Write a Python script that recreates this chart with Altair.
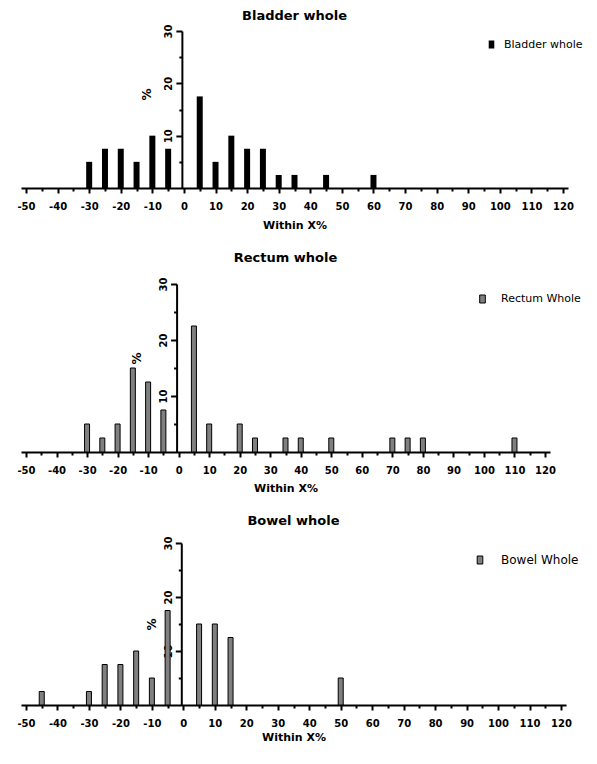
import altair as alt
import pandas as pd

# ---- data ----
panel_titles = ["Bladder whole", "Rectum whole", "Bowel whole"]
legend_names = ["Bladder whole", "Rectum Whole", "Bowel Whole"]

bladder_x = [-30, -25, -20, -15, -10, -5, 5, 10, 15, 20, 25, 30, 35, 45, 60]
bladder_pct = [5, 7.5, 7.5, 5, 10, 7.5, 17.5, 5, 10, 7.5, 7.5, 2.5, 2.5, 2.5, 2.5]

rectum_x = [-30, -25, -20, -15, -10, -5, 5, 10, 20, 25, 35, 40, 50, 70, 75, 80, 110]
rectum_pct = [5, 2.5, 5, 15, 12.5, 7.5, 22.5, 5, 5, 2.5, 2.5, 2.5, 2.5, 2.5, 2.5, 2.5, 2.5]

bowel_x = [-45, -30, -25, -20, -15, -10, -5, 5, 10, 15, 50]
bowel_pct = [2.5, 2.5, 7.5, 7.5, 10, 5, 17.5, 15, 15, 12.5, 5]

x_ticks = list(range(-50, 121, 5))
y_ticks = [5, 10, 15, 20, 25, 30]
x_domain = [-50, 120]
y_domain = [0, 30]

FONT = "DejaVu Sans"
SQUARE = "M-0.7,-1H0.7V1H-0.7Z"


def panel(title, legend_name, xs, ys, fill, stroke, width, height,
          leg_x, leg_y, leg_font, leg_offset, ytitle_x, ytitle_y,
          title_offset, xtitle_pad):
    df = pd.DataFrame({"x": xs, "pct": ys, "series": [legend_name] * len(xs)})
    y_offset = -(0 - x_domain[0]) / (x_domain[1] - x_domain[0]) * width
    bar_kwargs = dict(size=6) if stroke is None else dict(size=5, stroke=stroke, strokeWidth=1)
    return (
        alt.Chart(df)
        .mark_bar(**bar_kwargs)
        .encode(
            x=alt.X(
                "x:Q",
                scale=alt.Scale(domain=x_domain, nice=False, zero=False),
                axis=alt.Axis(
                    values=x_ticks,
                    title="Within X%",
                    labelExpr="datum.value % 10 === 0 ? '' + datum.value : ''",
                    tickSize={"condition": {"test": "datum.value % 10 === 0", "value": 5}, "value": 3},
                    labelPadding=8,
                    titlePadding=xtitle_pad,
                ),
            ),
            y=alt.Y(
                "pct:Q",
                scale=alt.Scale(domain=y_domain, nice=False),
                axis=alt.Axis(
                    values=y_ticks,
                    title="%",
                    offset=y_offset,
                    labelAngle=270,
                    labelAlign="center",
                    labelBaseline="bottom",
                    labelExpr="datum.value % 10 === 0 ? '' + datum.value : ''",
                    tickSize={"condition": {"test": "datum.value % 10 === 0", "value": 6}, "value": 3},
                    labelPadding=2,
                    titleAngle=270,
                    titleX=ytitle_x,
                    titleY=ytitle_y,
                    titleAlign="center",
                    titleBaseline="middle",
                    titleFontSize=12,
                ),
            ),
            color=alt.Color(
                "series:N",
                scale=alt.Scale(domain=[legend_name], range=[fill]),
                legend=alt.Legend(
                    title=None,
                    orient="none",
                    legendX=leg_x,
                    legendY=leg_y,
                    symbolType=SQUARE,
                    symbolSize=64,
                    symbolStrokeColor="black",
                    symbolStrokeWidth=1 if stroke else 0,
                    labelFont=FONT,
                    labelFontSize=leg_font,
                    labelOffset=leg_offset,
                    padding=0,
                ),
            ),
        )
        .properties(
            width=width,
            height=height,
            title=alt.TitleParams(title, frame="group", anchor="middle",
                                  font=FONT, fontSize=13, fontWeight="bold",
                                  offset=title_offset),
        )
    )


p1 = panel(panel_titles[0], legend_names[0], bladder_x, bladder_pct, "black", None,
           547, 157, 465, 8, 11, 7, -35, 63, 1, 8)
p2 = panel(panel_titles[1], legend_names[1], rectum_x, rectum_pct, "#808080", "black",
           529, 168, 456, 9.5, 11, 13, -40, 74, 12, 7)
p3 = panel(panel_titles[2], legend_names[2], bowel_x, bowel_pct, "#808080", "black",
           545, 162, 453, 11, 12, 15, -30, 81, 8, 3)

lower = alt.vconcat(p2, p3, spacing=22).resolve_scale(
    color="independent", x="independent", y="independent")

chart = (
    alt.vconcat(p1, lower, spacing=22)
    .resolve_scale(color="independent", x="independent", y="independent")
    .properties(padding={"left": 8, "top": 2, "right": 0, "bottom": 0})
    .configure_view(strokeWidth=0)
    .configure_axis(
        domainColor="black",
        domainWidth=2,
        tickColor="black",
        tickWidth=2,
        grid=False,
        labelFont=FONT,
        labelFontSize=10,
        labelFontWeight="bold",
        labelColor="black",
        titleFont=FONT,
        titleFontSize=11,
        titleFontWeight="bold",
        titleColor="black",
    )
)

chart.save("out.html", embed_options={"renderer": "svg", "actions": False})
